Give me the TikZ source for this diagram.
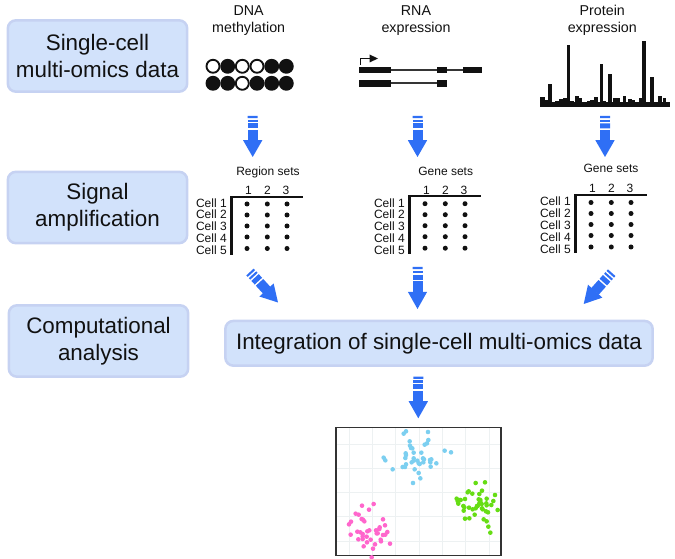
\documentclass[tikz,border=0pt]{standalone}
\usepackage{fontspec}
\setmainfont{Liberation Sans}
\usetikzlibrary{calc}
\definecolor{panelfill}{HTML}{D2E2FB}
\definecolor{panelline}{HTML}{C6D2F2}
\definecolor{arrowblue}{HTML}{2F6FF5}
\definecolor{ink}{HTML}{111111}
\definecolor{gridc}{HTML}{EDF1F2}
\definecolor{dotblue}{HTML}{7CCFF0}
\definecolor{dotgreen}{HTML}{66DD14}
\definecolor{dotpink}{HTML}{FF66CC}
\tikzset{
  panel/.style={draw=panelline,fill=panelfill,line width=1.9pt,rounded corners=6pt,text=ink,align=center,inner sep=0pt,
    font=\fontsize{16.8pt}{20.5pt}\selectfont},
  head/.style={anchor=base,inner sep=0pt,text=ink,font=\fontsize{10.7pt}{13pt}\selectfont},
  small/.style={inner sep=0pt,text=ink,font=\fontsize{9pt}{10pt}\selectfont},
  ruleline/.style={draw=ink,line width=1.6pt},
  gene/.style={fill=ink},
  intron/.style={draw=ink!85,line width=1.3pt},
}
\newcommand{\blockarrow}[2]{%
  \foreach \a/\b in {0/.05,.09/.14,.18/.30,.34/.60}
    \draw[arrowblue,line width=7.5pt] ($(#1)!\a!(#2)$) -- ($(#1)!\b!(#2)$);
  \fill[arrowblue] ($(#1)!.59!(#2)!7.25pt!90:(#2)$) -- (#2) -- ($(#1)!.59!(#2)!7.25pt!-90:(#2)$) -- cycle;
}
% #1 name, #2 dx, #3 dy, #4 title, #5 title centre x, #6 title baseline y
\newcommand{\settable}[6]{%
  \begin{scope}[shift={(#2,#3)}]
    \node[small,anchor=base] (#1title) at (#5,#6) {#4};
    \foreach \n/\x in {1/248.5,2/267.5,3/286}
      \node[small,anchor=base] (#1col\n) at (\x,194.5) {\n};
    \foreach \n/\y in {1/203.5,2/215,3/226.8,4/239,5/250.7}
      \node[small,anchor=base east] (#1row\n) at (227,\y+4) {Cell \n};
    \draw[ruleline] (302.7,196.7) -- (231.5,196.7) -- (231.5,254.7);
    \foreach \x in {247,267.3,287}
      \foreach \y in {204,215,226,237,248.5}
        \fill[ink] (\x,\y) circle[radius=2.5];
  \end{scope}
}
\begin{document}
\begin{tikzpicture}[x=0.75pt,y=-0.75pt]
\useasboundingbox (0,0) rectangle (675,559);

% left panels
\node[panel,minimum width=134.5pt,minimum height=53.5pt] (p1) at (97.5,56) {Single-cell\\multi-omics data};
\node[panel,minimum width=134.5pt,minimum height=53.5pt] (p2) at (97.5,207.5) {Signal\\amplification};
\node[panel,minimum width=134.5pt,minimum height=53.5pt] (p3) at (98.5,341) {Computational\\analysis};
\node[panel,minimum width=320.5pt,minimum height=33.5pt] (p4) at (439,343.3) {Integration of single-cell multi-omics data};

% column headings
\node[head] (h1a) at (248.7,15.7) {DNA};
\node[head] (h1b) at (248.7,32.7) {methylation};
\node[head] (h2a) at (416,15.7) {RNA};
\node[head] (h2b) at (416,32.7) {expression};
\node[head] (h3a) at (602.3,15.7) {Protein};
\node[head] (h3b) at (602.3,32.7) {expression};

% methylation circles
\foreach \x/\c in {213/white,227.7/ink,242.3/white,257/white,271.7/ink,286.3/ink}
  \draw[ink,line width=1.4pt,fill=\c] (\x,66.3) circle[radius=6.5];
\foreach \x/\c in {213/ink,227.7/ink,271.7/ink,286.3/ink,257/ink,242.3/white}
  \draw[ink,line width=1.4pt,fill=\c] (\x,83.3) circle[radius=6.5];

% gene models
\draw[intron] (391,70) -- (463,70);
\draw[intron] (391,83.3) -- (437,83.3);
\fill[gene] (359,66.7) rectangle (391.3,73);
\fill[gene] (436.7,66.7) rectangle (446.7,73);
\fill[gene] (462.7,66.7) rectangle (482,73);
\fill[gene] (359,80) rectangle (391.3,86.7);
\fill[gene] (436.7,80) rectangle (446.7,86.7);
\draw[ink,line width=1.2pt] (360.3,65) -- (360.3,58.5) -- (371,58.5);
\fill[ink] (378,58.5) -- (369.5,54.5) -- (369.5,62.5) -- cycle;

% protein spectrum
\fill[ink] (540,102.5) rectangle (670,106.7);
\foreach \z/\t in {20/67,25/67,32/75,45/28,55/82,65/78,78/72,90/70,100/-90,110/78,125/62,135/70,145/80,160/78,170/76,183/67,199/-33,208/78,225/-3,240/70,250/70,268/62,285/72,295/75,305/80,318/68,327/-103,337/80,351/7,362/85,375/62,388/68,400/82}
  \fill[ink] ({535+(\z-5.5)/3},106) rectangle ({535+(\z+5.5)/3},{75+\t/3});

% tables
\settable{a}{0}{0}{Region sets}{268}{176}
\settable{b}{178}{-0.3}{Gene sets}{267.7}{176}
\settable{c}{344}{-1.5}{Gene sets}{267}{174.5}

% block arrows
\coordinate (s1) at (252.7,116); \coordinate (e1) at (252.7,157);
\coordinate (s2) at (417.5,116); \coordinate (e2) at (417.5,157);
\coordinate (s3) at (605,116);   \coordinate (e3) at (605,157);
\coordinate (s4) at (250,272);   \coordinate (e4) at (278,302.5);
\coordinate (s5) at (417.5,267); \coordinate (e5) at (417.5,309);
\coordinate (s6) at (611.7,272.7); \coordinate (e6) at (583.7,304);
\coordinate (s7) at (418.3,376.7); \coordinate (e7) at (418.3,418.3);
\blockarrow{s1}{e1}
\blockarrow{s2}{e2}
\blockarrow{s3}{e3}
\blockarrow{s4}{e4}
\blockarrow{s5}{e5}
\blockarrow{s6}{e6}
\blockarrow{s7}{e7}

% scatter plot
\foreach \z in {73,142,212,283,352,421,492}
  \draw[gridc,line width=0.7pt] ({325+\z/3},427.3) -- ({325+\z/3},555.7);
\foreach \z in {72,145,216,290,365}
  \draw[gridc,line width=0.7pt] (336,{420+\z/3}) -- (501,{420+\z/3});
\foreach \x/\y in {236/41,243/34,309/36,254/64,310/60,306/70,299/74,255/77,258/84,262/85,242/100,243/105,241/114,266/98,289/98,359/92,378/97,176/113,181/121,203/148,233/141,240/141,243/133,260/127,266/115,266/122,277/122,281/130,284/132,294/115,297/118,295/127,315/120,319/118,316/127,334/130,317/140,269/148,281/159,286/175,264/189}
  \fill[dotblue] ({325+\x/3},{420+\y/3}) circle[radius=2.3];
\foreach \x/\y in {452/189,480/187,428/217,431/214,442/221,471/212,463/222,510/225,395/236,398/243,402/240,407/240,400/251,420/237,461/238,466/240,485/236,505/243,499/255,518/270,415/258,418/262,416/272,432/263,443/268,452/265,458/258,463/250,466/245,470/252,484/250,485/256,471/265,473/268,483/274,489/277,449/284,433/295,420/296,476/298,485/304,490/320,496/338,456/258}
  \fill[dotgreen] ({325+\x/3},{420+\y/3}) circle[radius=2.3];
\draw[black!80,line width=1.1pt] (336,427.3) rectangle (501,555.7);
\foreach \x/\y in {146/252,111/257,132/269,92/281,101/284,110/297,114/299,118/304,174/298,78/305,72/313,180/316,164/322,163/327,97/335,106/337,113/342,113/349,77/344,125/350,127/334,133/331,153/331,155/340,158/340,174/345,181/344,187/336,100/358,113/357,137/359,126/367,167/359,168/364,150/373,116/379,144/386,195/371,140/412}
  \fill[dotpink] ({325+\x/3},{420+\y/3}) circle[radius=2.3];
\end{tikzpicture}
\end{document}
